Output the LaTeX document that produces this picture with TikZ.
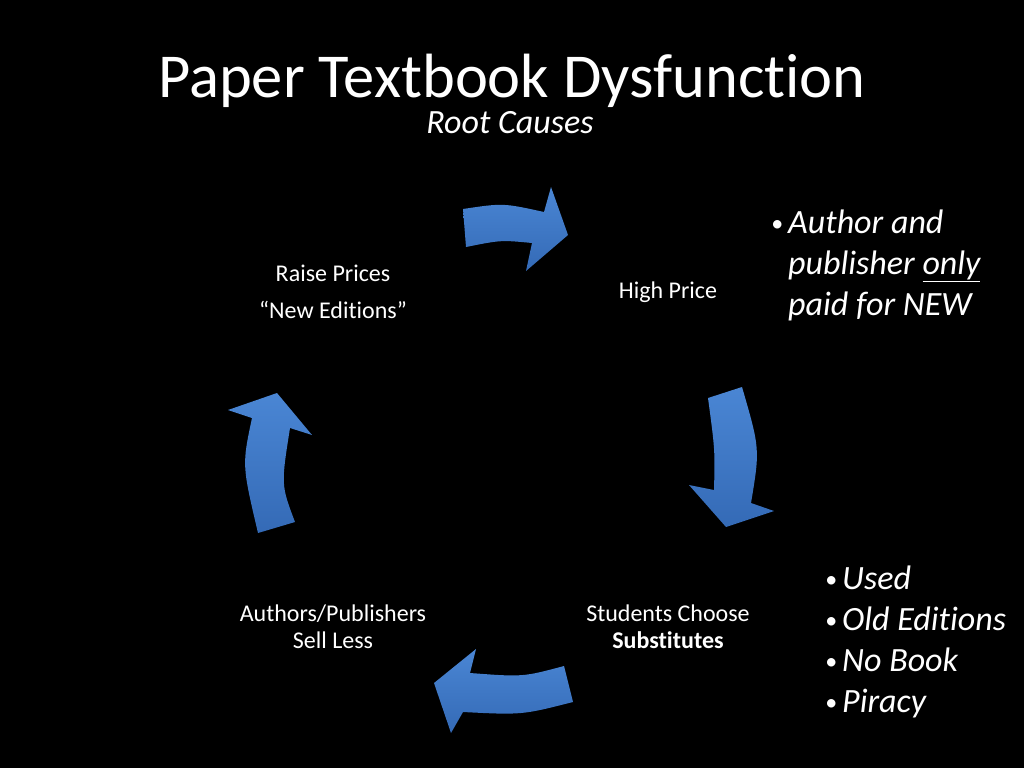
\documentclass[tikz,border=0pt]{standalone}
\usepackage{fontspec}
\setmainfont[RawFeature=-liga]{Carlito}
\usetikzlibrary{positioning}

\definecolor{cyclefill}{RGB}{62,120,198}
\definecolor{cycletop}{RGB}{74,134,212}
\definecolor{cyclebot}{RGB}{52,106,182}

\newcommand{\dotmark}{\makebox[17pt][l]{\raisebox{2pt}{\fontsize{24}{24}\selectfont\textbullet}}}

\begin{document}
\begin{tikzpicture}[x=1pt, y=-1pt,
		label/.style={text=white, inner sep=0pt, font=\fontsize{24}{27}\selectfont},
		bullets/.style={text=white, inner sep=0pt, anchor=base west, font=\fontsize{34}{41}\selectfont\itshape},
		cyclearrow/.style={top color=cycletop, bottom color=cyclebot, draw=none}]
		% slide background
		\fill [black] (0,0) rectangle (1024,768);
		\useasboundingbox (0,0) rectangle (1024,768);

		% title lines
		\node (title) [text=white, inner sep=0pt, anchor=base, font=\fontsize{62.5}{70}\selectfont] at (512,97) {Paper Textbook Dysfunction};
		\node (subtitle) [text=white, inner sep=0pt, anchor=base, font=\fontsize{34}{38}\selectfont\itshape] at (510,133) {Root Causes};

		% steps of the cycle
		\node (raise) [label, align=center, font=\fontsize{24}{37}\selectfont] at (333,292) {Raise Prices\\“New Editions”};
		\node (high) [label] at (668,292) {High Price};
		\node (choose) [label, align=center] at (668,627) {Students Choose\\\textbf{Substitutes}};
		\node (sellless) [label, align=center] at (333,627) {Authors/Publishers\\Sell Less};

		% curved block arrows round the cycle
		\path [cyclearrow] (466,247) -- (463,209) .. controls (503,203) .. (544,212) -- (551,187) -- (568,235) -- (526,271) -- (532,243) .. controls (501,240) .. (466,247) -- cycle;
		\path [cyclearrow] (708,398) -- (742,387) .. controls (760,449) .. (751,503) -- (774,511) -- (726,527) -- (689,485) -- (714,490) .. controls (715,450) .. (708,398) -- cycle;
		\path [cyclearrow] (564,666) -- (573,702) .. controls (522,715) .. (463,712) -- (451,733) -- (434,683) -- (476,649) -- (470,673) .. controls (523,677) .. (564,666) -- cycle;
		\path [cyclearrow] (258,533) -- (295,522) .. controls (281,485) .. (290,428) -- (312,435) -- (277,393) -- (228,410) -- (252,418) .. controls (242,465) .. (258,533) -- cycle;

		% side notes
		\node (whynew) [bullets] at (771,233) {\begin{tabular}[t]{@{}l@{}l@{}}
			\dotmark & Author and\\
			& publisher \underline{only}\\
			& paid for NEW
		\end{tabular}};
		\node (subslist) [bullets] at (822,589) {\begin{tabular}[t]{@{}l@{}l@{}}
			\makebox[3pt]{}\dotmark & Used\\
			\makebox[3pt]{}\dotmark & Old Editions\\
			\makebox[3pt]{}\dotmark & No Book\\
			\makebox[3pt]{}\dotmark & Piracy
		\end{tabular}};
	\end{tikzpicture}
\end{document}
